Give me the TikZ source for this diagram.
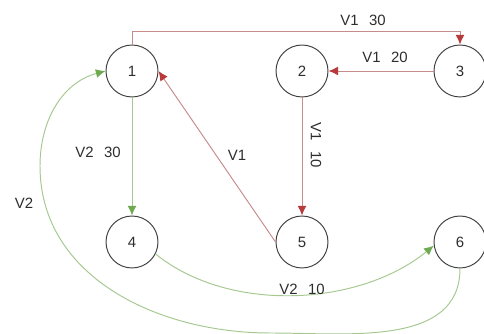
\documentclass[tikz,border=0pt]{standalone}
\usepackage{fontspec}
\setmainfont{Liberation Sans}
\usetikzlibrary{arrows.meta}
\definecolor{rline}{RGB}{198,140,140}
\definecolor{rhead}{RGB}{184,58,58}
\definecolor{gline}{RGB}{165,200,145}
\definecolor{ghead}{RGB}{110,170,80}
\definecolor{txt}{RGB}{45,45,45}
\tikzset{
  vtx/.style={circle,draw=black!75,line width=0.55pt,minimum size=1.04cm,inner sep=0pt,text=txt,font=\fontsize{8.5}{10}\selectfont},
  redge/.style={draw=rline,line width=0.55pt,-{Latex[length=5.5pt,width=5pt,color=rhead]}},
  gedge/.style={draw=gline,line width=0.55pt,-{Latex[length=5.5pt,width=5pt,color=ghead]}},
  lbl/.style={inner sep=0pt,text=txt,font=\fontsize{8.5}{10}\selectfont}
}
\newcommand{\vw}[2]{#1\hspace{0.7em}#2}
\begin{document}
\begin{tikzpicture}[x=0.02cm,y=0.02cm]
        \useasboundingbox (0,0) rectangle (484,334);
        \node[vtx] (n1) at (132,263) {1};
        \node[vtx] (n2) at (302,263) {2};
        \node[vtx] (n3) at (460,263) {3};
        \node[vtx] (n4) at (132,92) {4};
        \node[vtx] (n5) at (302,92) {5};
        \node[vtx] (n6) at (460,92) {6};
        \coordinate (lowmid) at (270,1);
        \coordinate (leftmid) at (40,168);
        % red edges
        \draw[redge] (n1.north) -- ++(0,13) -| (n3.north);
        \draw[redge] (n3) -- (n2);
        \draw[redge] (n2) -- (n5);
        \draw[redge] (n5.west) -- (n1.east);
        % green edges
        \draw[gedge] (n1) -- (n4);
        \draw[gedge] (n4.-27) .. controls (230,20) and (360,28) .. (n6.188);
        \draw[gedge] (n6.south) to[out=-90,in=0] (lowmid) to[out=180,in=-90] (leftmid) to[out=90,in=195] (n1.west);
        % labels
        \node[lbl] (l13) at (363,314) {\vw{V1}{30}};
        \node[lbl] (l32) at (385,277) {\vw{V1}{20}};
        \node[lbl,rotate=-90] (l25) at (316,189) {\vw{V1}{10}};
        \node[lbl] (l51) at (237,179) {V1};
        \node[lbl] (l14) at (98,182) {\vw{V2}{30}};
        \node[lbl] (l61) at (24,131) {V2};
        \node[lbl] (l46) at (302,45) {\vw{V2}{10}};
      \end{tikzpicture}
\end{document}
